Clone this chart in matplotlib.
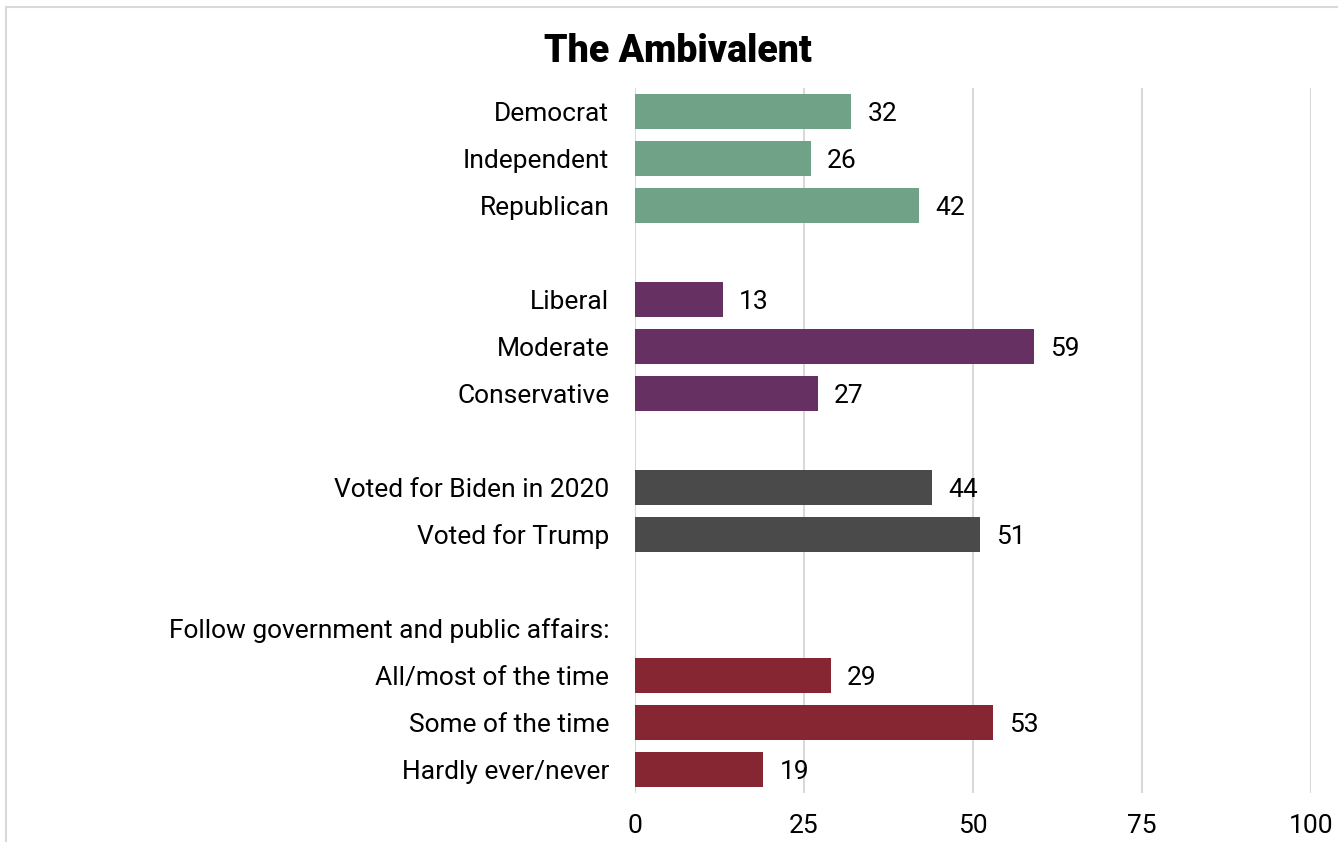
import matplotlib.pyplot as plt
from matplotlib.patches import Rectangle

labels = ["Democrat", "Independent", "Republican", "",
          "Liberal", "Moderate", "Conservative", "",
          "Voted for Biden in 2020", "Voted for Trump", "",
          "Follow government and public affairs:",
          "All/most of the time", "Some of the time", "Hardly ever/never"]
values = [32, 26, 42, None, 13, 59, 27, None, 44, 51, None, None, 29, 53, 19]
groups = ["party", "party", "party", None, "ideo", "ideo", "ideo", None,
          "vote", "vote", None, None, "follow", "follow", "follow"]
colors = {"party": "#6FA287", "ideo": "#663162", "vote": "#4A4A4A", "follow": "#862633"}
xticks = [0, 25, 50, 75, 100]

plt.rcParams['font.family'] = ['Roboto', 'DejaVu Sans']

fig = plt.figure(figsize=(13.38, 8.42), dpi=100)
ax = fig.add_axes([635 / 1338, 1 - 793 / 842, 676 / 1338, 705 / 842])

# light frame (only top and left edges visible in the crop)
fig.patches.append(Rectangle((6 / 1338, -0.5), 2, 1.5 - 7 / 842,
                             transform=fig.transFigure, fill=False,
                             edgecolor="#D9D9D9", linewidth=1.5, zorder=0))

for i, (v, g) in enumerate(zip(values, groups)):
    if v is None:
        continue
    ax.barh(i, v, height=0.75, color=colors[g], zorder=2)
    ax.annotate(f"{v}", (v, i), xytext=(11.5, 0), textcoords="offset points",
                ha="left", va="center_baseline", fontsize=19, color="black")

ax.set_ylim(len(labels) - 0.5, -0.5)
ax.set_xlim(0, 100)
ax.set_yticks(range(len(labels)))
ax.set_yticklabels(labels, fontsize=19, va="center_baseline")
ax.set_xticks(xticks)
ax.set_xticklabels([str(t) for t in xticks], fontsize=19)
ax.tick_params(axis="y", length=0, pad=18.5)
ax.tick_params(axis="x", length=0, pad=15)
ax.grid(axis="x", color="#D9D9D9", linewidth=1.5, zorder=0)
ax.set_axisbelow(True)
for s in ax.spines.values():
    s.set_visible(False)

fig.text(678 / 1338, 1 - 51 / 842, "The Ambivalent", ha="center", va="center",
         fontsize=27, fontweight="black")

fig.savefig("out.png", dpi=100)
